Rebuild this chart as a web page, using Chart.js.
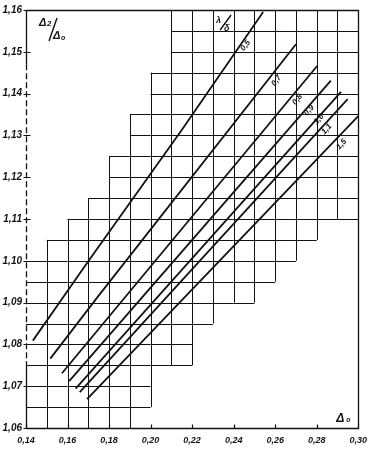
<!DOCTYPE html>
<html>
<head>
<meta charset="utf-8">
<script src="https://cdn.jsdelivr.net/npm/chart.js@4.4.1/dist/chart.umd.min.js"></script>
<style>
  html, body { margin: 0; padding: 0; background: #fff; }
  #wrap { width: 374px; height: 451px; }
</style>
</head>
<body>
<div id="wrap"><canvas id="c" width="374" height="451"></canvas></div>
<script>
// Δ2/Δ0 as a function of Δ0, one line per value of the parameter λ/δ
const curveLabels = ['0,5', '0,7', '0,8', '0,9', '1,0', '1,1', '1,5'];

const x05 = [0.1433, 0.1694, 0.2150, 0.2542];
const y05 = [1.0809, 1.0995, 1.1313, 1.1595];
const x07 = [0.1517, 0.1749, 0.2700];
const y07 = [1.0766, 1.0916, 1.1518];
const x08 = [0.1573, 0.2802];
const y08 = [1.0731, 1.1466];
const x09 = [0.1608, 0.2868];
const y09 = [1.0712, 1.1431];
const x10 = [0.1639, 0.2917];
const y10 = [1.0694, 1.1404];
const x11 = [0.1659, 0.2949];
const y11 = [1.0686, 1.1387];
const x15 = [0.1694, 0.3000];
const y15 = [1.0669, 1.1346];

// where each parameter value is written beside its line (Δ0, Δ2/Δ0)
const labelX = [0.2457, 0.2606, 0.2707, 0.2763, 0.2810, 0.2848, 0.2919];
const labelY = [1.1515, 1.1431, 1.1386, 1.1360, 1.1339, 1.1315, 1.1279];

// ruled band: each 0.01-wide Δ0 column is squared between these Δ2/Δ0 limits
const gridColumnStart = [0.14, 0.15, 0.16, 0.17, 0.18, 0.19, 0.20, 0.21,
                         0.22, 0.23, 0.24, 0.25, 0.26, 0.27, 0.28, 0.29];
const gridBottom = [1.060, 1.060, 1.060, 1.060, 1.060, 1.065, 1.075, 1.075,
                    1.085, 1.090, 1.090, 1.095, 1.100, 1.105, 1.110, 1.110];
const gridTop    = [1.100, 1.105, 1.110, 1.115, 1.125, 1.135, 1.145, 1.160,
                    1.160, 1.160, 1.160, 1.160, 1.160, 1.160, 1.160, 1.160];

const xTicks = [0.14, 0.16, 0.18, 0.20, 0.22, 0.24, 0.26, 0.28, 0.30];
const yTicks = [1.06, 1.07, 1.08, 1.09, 1.10, 1.11, 1.12, 1.13, 1.14, 1.15, 1.16];

const INK = '#121212';
const SANS = '"Liberation Sans", Arial, sans-serif';

function pts(xs, ys) { return xs.map((x, i) => ({ x: x, y: ys[i] })); }
const series = [pts(x05, y05), pts(x07, y07), pts(x08, y08), pts(x09, y09),
                pts(x10, y10), pts(x11, y11), pts(x15, y15)];

const fmt = v => Number(v).toFixed(2).replace('.', ',');

// squared band, frame, tick marks and lettering
const paperGrid = {
  id: 'paperGrid',
  beforeDatasetsDraw(chart) {
    const { ctx, chartArea: a, scales: { x, y } } = chart;
    ctx.save();
    ctx.strokeStyle = INK;
    ctx.lineWidth = 1;
    ctx.lineCap = 'butt';
    const S = v => Math.round(v) + 0.5;
    const n = gridColumnStart.length;
    ctx.beginPath();
    // horizontal rules inside every column
    for (let i = 0; i < n; i++) {
      const x0 = x.getPixelForValue(gridColumnStart[i]);
      const x1 = x.getPixelForValue(gridColumnStart[i] + 0.01);
      const k0 = Math.round(gridBottom[i] * 200), k1 = Math.round(gridTop[i] * 200);
      for (let k = k0; k <= k1; k++) {
        const py = S(y.getPixelForValue(k / 200));
        ctx.moveTo(x0, py); ctx.lineTo(x1, py);
      }
    }
    // vertical rules between columns
    for (let i = 1; i < n; i++) {
      const px = S(x.getPixelForValue(gridColumnStart[i]));
      const lo = Math.min(gridBottom[i - 1], gridBottom[i]);
      const hi = Math.max(gridTop[i - 1], gridTop[i]);
      ctx.moveTo(px, y.getPixelForValue(lo)); ctx.lineTo(px, y.getPixelForValue(hi));
    }
    ctx.stroke();

    // frame: top, right, bottom solid
    const L = S(a.left), R = S(a.right), T = S(a.top), B = S(a.bottom);
    ctx.lineWidth = 1.3;
    ctx.beginPath();
    ctx.moveTo(L, T); ctx.lineTo(R, T); ctx.lineTo(R, B); ctx.lineTo(L, B);
    ctx.stroke();
    // left axis, broken where the ink is thin
    const yMid = y.getPixelForValue(1.147), yLow = y.getPixelForValue(1.075);
    ctx.beginPath(); ctx.moveTo(L, T); ctx.lineTo(L, yMid); ctx.stroke();
    ctx.setLineDash([6, 3]);
    ctx.beginPath(); ctx.moveTo(L, yMid); ctx.lineTo(L, yLow); ctx.stroke();
    ctx.setLineDash([]);
    ctx.beginPath(); ctx.moveTo(L, yLow); ctx.lineTo(L, B); ctx.stroke();

    // tick marks
    ctx.lineWidth = 1.2;
    ctx.beginPath();
    yTicks.forEach(v => {
      const py = S(y.getPixelForValue(v));
      ctx.moveTo(L - 3, py); ctx.lineTo(L + 4, py);
    });
    xTicks.forEach(v => {
      const px = S(x.getPixelForValue(v));
      ctx.moveTo(px, B); ctx.lineTo(px, B - 4);
    });
    ctx.stroke();
    ctx.restore();
  },
  afterDatasetsDraw(chart) {
    const { ctx, scales: { x, y } } = chart;
    ctx.save();
    ctx.fillStyle = INK;
    ctx.strokeStyle = INK;

    // parameter values written along their lines
    ctx.font = 'italic bold 8px ' + SANS;
    ctx.textAlign = 'center';
    ctx.textBaseline = 'middle';
    series.forEach((s, i) => {
      const p0 = s[0], p1 = s[s.length - 1];
      const ang = Math.atan2(y.getPixelForValue(p1.y) - y.getPixelForValue(p0.y),
                             x.getPixelForValue(p1.x) - x.getPixelForValue(p0.x));
      ctx.save();
      ctx.translate(x.getPixelForValue(labelX[i]), y.getPixelForValue(labelY[i]));
      ctx.rotate(ang);
      ctx.fillText(curveLabels[i], 0, 0);
      ctx.restore();
    });

    // slanted fraction: numerator, slash, denominator
    function fraction(nx, ny, num, numSub, dx, dy, den, denSub, s1, s2, size) {
      ctx.textAlign = 'left';
      ctx.textBaseline = 'alphabetic';
      ctx.font = 'italic bold ' + size + 'px ' + SANS;
      ctx.fillText(num, nx, ny);
      let w = ctx.measureText(num).width;
      if (numSub) {
        ctx.font = 'italic bold 8px ' + SANS;
        ctx.fillText(numSub, nx + w + 0.5, ny);
      }
      ctx.font = 'italic bold ' + size + 'px ' + SANS;
      ctx.fillText(den, dx, dy);
      w = ctx.measureText(den).width;
      if (denSub) {
        ctx.font = 'italic bold 7px ' + SANS;
        ctx.fillText(denSub, dx + w + 0.5, dy + 1);
      }
      ctx.lineWidth = 1.4;
      ctx.beginPath();
      ctx.moveTo(s1[0], s1[1]); ctx.lineTo(s2[0], s2[1]);
      ctx.stroke();
    }
    const L = chart.chartArea.left, T = chart.chartArea.top;
    const R = chart.chartArea.right, B = chart.chartArea.bottom;
    // Δ2/Δ0 at the top of the vertical axis
    fraction(L + 13, T + 16, 'Δ', '2', L + 27, T + 29, 'Δ', 'o',
             [L + 31, T + 8], [L + 23, T + 31], 11);
    // λ/δ above the family of lines
    const fx = x.getPixelForValue(0.2325);
    fraction(fx - 2, T + 13, 'λ', '', fx + 6, T + 21, 'δ', '',
             [fx + 13, T + 5], [fx + 2, T + 20], 9);

    // Δ0 at the end of the horizontal axis
    ctx.font = 'italic bold 12px ' + SANS;
    ctx.textAlign = 'left';
    ctx.textBaseline = 'alphabetic';
    ctx.fillText('Δ', R - 22, B - 6);
    ctx.font = 'italic bold 7px ' + SANS;
    ctx.fillText('o', R - 12, B - 6);
    ctx.restore();
  }
};

new Chart(document.getElementById('c'), {
  type: 'scatter',
  data: {
    datasets: series.map((s, i) => ({
      label: curveLabels[i],
      data: s,
      showLine: true,
      borderColor: INK,
      borderWidth: 1.8,
      pointRadius: 0,
      tension: 0,
      fill: false
    }))
  },
  options: {
    responsive: false,
    animation: false,
    events: [],
    layout: { padding: { top: 7, right: 9, left: 0, bottom: 0 } },
    plugins: { legend: { display: false }, tooltip: { enabled: false } },
    scales: {
      x: {
        type: 'linear', min: 0.14, max: 0.30,
        afterBuildTicks: s => { s.ticks = xTicks.map(v => ({ value: v })); },
        afterFit: s => { s.height = 23; },
        grid: { display: false, drawTicks: false },
        border: { display: false },
        ticks: {
          callback: v => fmt(v), color: INK, padding: 7, maxRotation: 0, autoSkip: false,
          font: { family: SANS, size: 9, style: 'italic', weight: 'bold' }
        }
      },
      y: {
        type: 'linear', min: 1.06, max: 1.16,
        afterBuildTicks: s => { s.ticks = yTicks.map(v => ({ value: v })); },
        afterFit: s => { s.width = 26; },
        grid: { display: false, drawTicks: false },
        border: { display: false },
        ticks: {
          callback: v => fmt(v), color: INK, padding: 4, autoSkip: false,
          font: { family: SANS, size: 10, style: 'italic', weight: 'bold' }
        }
      }
    }
  },
  plugins: [paperGrid]
});
</script>
</body>
</html>
